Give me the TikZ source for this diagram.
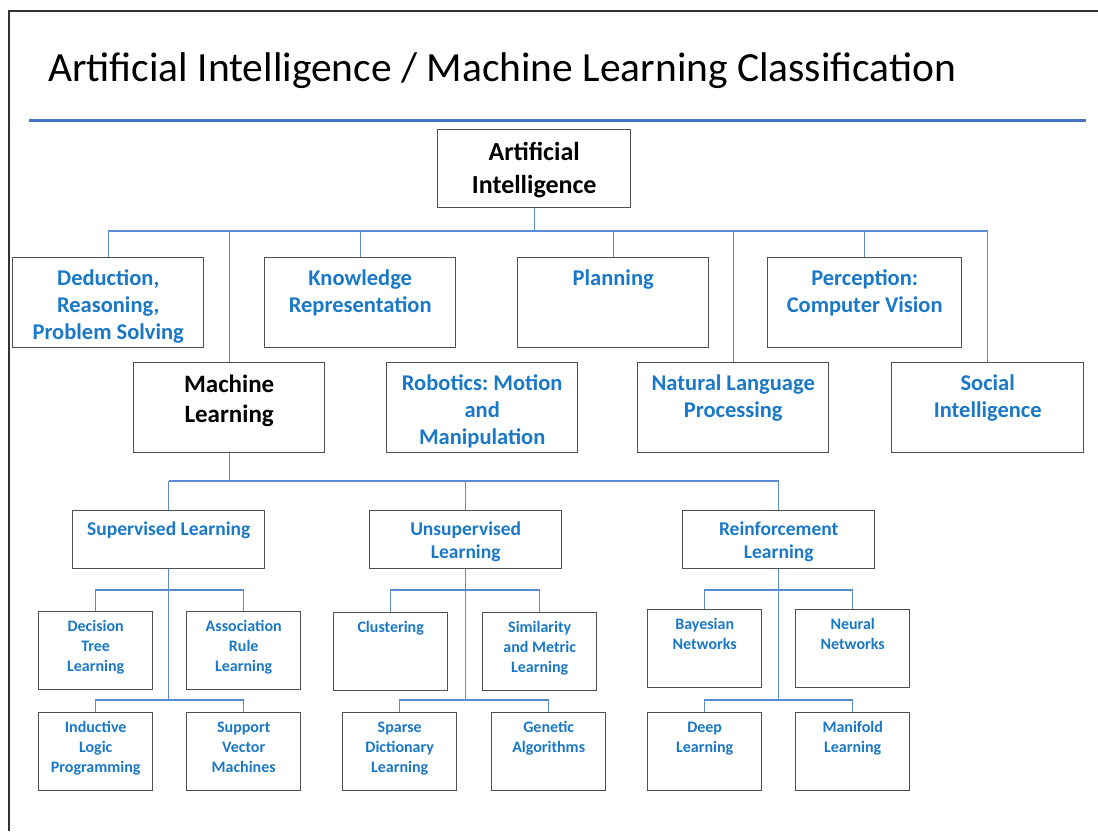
\documentclass[tikz,border=0pt]{standalone}
\usepackage{fontspec}
\setmainfont{Carlito}
\frenchspacing
\usetikzlibrary{positioning}
\definecolor{txtblue}{HTML}{1A78C8}
\definecolor{lnblue}{HTML}{5B8CD2}
\definecolor{ruleblue}{HTML}{4472C4}
\definecolor{boxgray}{HTML}{505050}
\newcommand{\boxtext}[1]{\begin{tabular}[t]{@{}c@{}}#1\end{tabular}}
\tikzset{
  box/.style={draw=boxgray, line width=1.4pt, inner sep=0pt, anchor=north west},
  big/.style={box, minimum width=191pt, text height=28pt, text depth=62pt,
    font=\bfseries\fontsize{22.5}{27}\selectfont, text=txtblue},
  mid/.style={box, minimum width=192pt, text height=24.5pt, text depth=33.5pt,
    font=\bfseries\fontsize{19.5}{23}\selectfont, text=txtblue},
  small/.style={box, minimum width=114pt, text height=20pt, text depth=58pt,
    font=\bfseries\fontsize{16}{20}\selectfont, text=txtblue},
  link/.style={draw=lnblue, line width=1.3pt},
}
\begin{document}
\begin{tikzpicture}[x=1pt, y=-1pt]
\useasboundingbox (0,0) rectangle (1098,831);
\draw[draw=black!80, line width=2pt] (9,831) -- (9,11) -- (1098,11);
\node[anchor=base west, inner sep=0pt, font=\fontsize{41.5}{50}\selectfont] (title) at (48,81) {Artificial Intelligence / Machine Learning Classification};
\draw[ruleblue, line width=3pt] (29,120) -- (1086,120);

% top of the tree
\node[big, text=black, font=\bfseries\fontsize{26}{33}\selectfont, minimum width=193pt, text height=31pt, text depth=47pt] (ai) at (437,129) {\boxtext{Artificial\\Intelligence}};
\node[big] (ded) at (12,257) {\boxtext{Deduction,\\Reasoning,\\Problem Solving}};
\node[big] (kr) at (264,257) {\boxtext{Knowledge\\Representation}};
\node[big] (plan) at (517,257) {\boxtext{Planning}};
\node[big, minimum width=194pt] (perc) at (767,257) {\boxtext{Perception:\\Computer Vision}};
\node[big, text=black, font=\bfseries\fontsize{25}{30}\selectfont, text height=29.5pt, text depth=60.5pt] (ml) at (133,362) {\boxtext{Machine\\Learning}};
\node[big] (rob) at (386,362) {\boxtext{Robotics: Motion\\and\\Manipulation}};
\node[big] (nlp) at (637,362) {\boxtext{Natural Language\\Processing}};
\node[big, minimum width=192pt] (soc) at (891,362) {\boxtext{Social\\Intelligence}};

% machine learning
\node[mid] (sup) at (72,510) {\boxtext{Supervised Learning}};
\node[mid] (uns) at (369,510) {\boxtext{Unsupervised\\Learning}};
\node[mid] (rl) at (682,510) {\boxtext{Reinforcement\\Learning}};

\node[small] (dtl) at (38,611) {\boxtext{Decision\\Tree\\Learning}};
\node[small] (arl) at (186,611) {\boxtext{Association\\Rule\\Learning}};
\node[small] (ilp) at (38,712) {\boxtext{Inductive\\Logic\\Programming}};
\node[small] (svm) at (186,712) {\boxtext{Support\\Vector\\Machines}};
\node[small] (clu) at (333,612) {\boxtext{Clustering}};
\node[small] (sml) at (482,612) {\boxtext{Similarity\\and Metric\\Learning}};
\node[small] (sdl) at (342,712) {\boxtext{Sparse\\Dictionary\\Learning}};
\node[small] (gen) at (491,712) {\boxtext{Genetic\\Algorithms}};
\node[small] (bay) at (647,609) {\boxtext{Bayesian\\Networks}};
\node[small] (nn) at (795,609) {\boxtext{Neural\\Networks}};
\node[small] (deep) at (647,712) {\boxtext{Deep\\Learning}};
\node[small] (man) at (795,712) {\boxtext{Manifold\\Learning}};

\coordinate (b1) at (0,231);
\coordinate (b2) at (0,481);
\coordinate (b3) at (0,590);
\coordinate (b4) at (0,700);

\draw[link] (ai.south) -- (ai.south |- b1);
\draw[link] (ded.north |- b1) -- (soc.north |- b1);
\foreach \n in {ded,kr,plan,perc,ml,nlp,soc}
  \draw[link] (\n.north) -- (\n.north |- b1);

\draw[link] (ml.south) -- (ml.south |- b2);
\draw[link] (sup.north |- b2) -- (rl.north |- b2);
\foreach \n in {sup,uns,rl}
  \draw[link] (\n.north) -- (\n.north |- b2);

\foreach \m/\a/\b/\c/\d in {sup/dtl/arl/ilp/svm, uns/clu/sml/sdl/gen, rl/bay/nn/deep/man} {
  \draw[link] (\m.south) -- (\m.south |- b4);
  \draw[link] (\a.north) |- (\m.south |- b3) -| (\b.north);
  \draw[link] (\c.north) |- (\m.south |- b4) -| (\d.north);
}
\end{tikzpicture}
\end{document}
